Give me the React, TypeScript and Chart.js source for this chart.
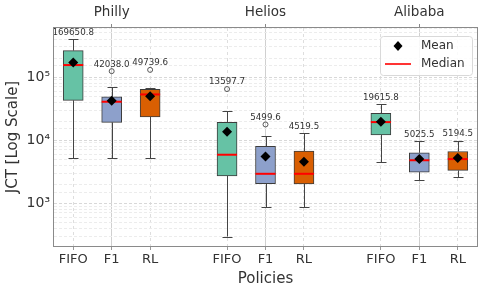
import React, { useEffect, useRef } from "react";
import { Chart, registerables } from "chart.js";

Chart.register(...registerables);

// ---- data ----
const positions = [1, 2, 3, 5, 6, 7, 9, 10, 11];
const tickLabels = ["FIFO", "F1", "RL", "FIFO", "F1", "RL", "FIFO", "F1", "RL"];
const groupNames = ["Philly", "Helios", "Alibaba"];
const groupPositions = [2, 6, 10];
const policyColors = ["#66c2a5", "#8da0cb", "#d95f02"];

const whiskerLow = [5200, 5200, 5200, 295, 866, 866, 4470, 2320, 2570];
const q1 = [42600, 19100, 23400, 2700, 2040, 2020, 12100, 3100, 3300];
const medians = [155000, 40600, 53000, 5860, 2920, 2920, 19300, 4790, 5000];
const q3 = [263000, 48700, 63700, 19100, 8000, 6700, 26500, 6300, 6600];
const whiskerHigh = [398000, 68500, 67700, 28500, 11600, 12800, 36900, 9600, 9700];
const means = [169650.8, 42038.0, 49739.6, 13597.7, 5499.6, 4519.5, 19615.8, 5025.5, 5194.5];
const outlierX = [2, 3, 5, 6];
const outlierY = [124000, 130000, 64500, 17700];

const yMin = 209;
const yMax = 600000;

const FONT = "'DejaVu Sans', sans-serif";
const TEXT = "#333333";

const whiskerPlugin = {
  id: "whiskers",
  beforeDatasetsDraw(chart: any) {
    const { ctx } = chart;
    const xs = chart.scales.x;
    const ys = chart.scales.y;
    ctx.save();
    ctx.strokeStyle = "#444444";
    ctx.lineWidth = 1;
    positions.forEach((p, i) => {
      const x = Math.round(xs.getPixelForValue(p)) + 0.5;
      const yl = ys.getPixelForValue(whiskerLow[i]);
      const yq1 = ys.getPixelForValue(q1[i]);
      const yq3 = ys.getPixelForValue(q3[i]);
      const yh = ys.getPixelForValue(whiskerHigh[i]);
      ctx.beginPath();
      ctx.moveTo(x, yl);
      ctx.lineTo(x, yq1);
      ctx.moveTo(x, yq3);
      ctx.lineTo(x, yh);
      ctx.moveTo(x - 5, Math.round(yl) + 0.5);
      ctx.lineTo(x + 5, Math.round(yl) + 0.5);
      ctx.moveTo(x - 5, Math.round(yh) + 0.5);
      ctx.lineTo(x + 5, Math.round(yh) + 0.5);
      ctx.stroke();
    });
    ctx.restore();
  },
  afterDatasetsDraw(chart: any) {
    const { ctx, chartArea } = chart;
    const xs = chart.scales.x;
    const ys = chart.scales.y;
    ctx.save();
    ctx.beginPath();
    ctx.rect(chartArea.left, chartArea.top, chartArea.right - chartArea.left, chartArea.bottom - chartArea.top);
    ctx.clip();
    ctx.fillStyle = TEXT;
    ctx.font = `8.7px ${FONT}`;
    ctx.textAlign = "center";
    ctx.textBaseline = "bottom";
    positions.forEach((p, i) => {
      let top = whiskerHigh[i];
      outlierX.forEach((ox, j) => {
        if (ox === p && outlierY[j] > top) top = outlierY[j];
      });
      const x = xs.getPixelForValue(p);
      const y = ys.getPixelForValue(top) - 2.5;
      ctx.fillText(means[i].toFixed(1), x, y);
    });
    ctx.restore();

    // frame
    ctx.save();
    ctx.strokeStyle = "#8a8a8a";
    ctx.lineWidth = 1;
    ctx.strokeRect(
      Math.round(chartArea.left) - 0.5,
      Math.round(chartArea.top) - 0.5,
      Math.round(chartArea.right - chartArea.left) + 1,
      Math.round(chartArea.bottom - chartArea.top) + 1
    );
    ctx.restore();

    // legend
    const bx = chartArea.right - 97;
    const by = chartArea.top + 8;
    const bw = 92;
    const bh = 39;
    ctx.save();
    ctx.beginPath();
    ctx.roundRect(bx + 0.5, by + 0.5, bw, bh, 3);
    ctx.fillStyle = "rgba(255,255,255,0.85)";
    ctx.fill();
    ctx.strokeStyle = "#d9d9d9";
    ctx.lineWidth = 1;
    ctx.stroke();
    // mean marker
    const mx = bx + 18;
    const my = by + 10;
    ctx.beginPath();
    ctx.moveTo(mx, my - 5);
    ctx.lineTo(mx + 4.5, my);
    ctx.lineTo(mx, my + 5);
    ctx.lineTo(mx - 4.5, my);
    ctx.closePath();
    ctx.fillStyle = "#000";
    ctx.fill();
    // median marker
    ctx.beginPath();
    ctx.moveTo(bx + 5, by + 28);
    ctx.lineTo(bx + 31, by + 28);
    ctx.strokeStyle = "red";
    ctx.lineWidth = 1.6;
    ctx.stroke();
    ctx.fillStyle = TEXT;
    ctx.font = `12px ${FONT}`;
    ctx.textAlign = "left";
    ctx.textBaseline = "middle";
    ctx.fillText("Mean", bx + 41, my);
    ctx.fillText("Median", bx + 41, by + 28);
    ctx.restore();
  },
};

const supers: Record<string, string> = { "0": "⁰", "1": "¹", "2": "²", "3": "³", "4": "⁴", "5": "⁵", "6": "⁶", "7": "⁷", "8": "⁸", "9": "⁹" };

function isPow10(v: number) {
  const l = Math.log10(v);
  return Math.abs(l - Math.round(l)) < 1e-9;
}

export default function App() {
  const ref = useRef<HTMLCanvasElement | null>(null);
  useEffect(() => {
    if (!ref.current) return;
    const chart = new Chart(ref.current, {
      data: {
        datasets: [
          {
            type: "bar",
            data: positions.map((x, i) => ({ x, y: [q1[i], q3[i]] })),
            backgroundColor: positions.map((_, i) => policyColors[i % 3]),
            borderColor: "#3c3c3c",
            borderWidth: 1,
            borderSkipped: false,
            barThickness: 20,
            grouped: false,
            order: 4,
          } as any,
          {
            type: "scatter",
            data: positions.map((x, i) => ({ x, y: medians[i] })),
            pointStyle: "line",
            pointRadius: 10,
            borderColor: "red",
            borderWidth: 2,
            order: 3,
          } as any,
          {
            type: "scatter",
            data: positions.map((x, i) => ({ x, y: means[i] })),
            pointStyle: "rectRot",
            pointRadius: 5,
            backgroundColor: "#000",
            borderColor: "#000",
            borderWidth: 0,
            order: 2,
          } as any,
          {
            type: "scatter",
            data: outlierX.map((x, i) => ({ x, y: outlierY[i] })),
            pointStyle: "circle",
            pointRadius: 2.5,
            backgroundColor: "rgba(255,255,255,0)",
            borderColor: "#555",
            borderWidth: 1,
            order: 1,
          } as any,
        ],
      },
      options: {
        animation: false,
        responsive: true,
        maintainAspectRatio: false,
        layout: { padding: { left: 0, right: 5, top: 0, bottom: 0 } },
        plugins: { legend: { display: false }, tooltip: { enabled: false } },
        scales: {
          x: {
            type: "linear",
            position: "bottom",
            min: 0.5,
            max: 11.5,
            offset: false,
            afterBuildTicks: (s: any) => {
              s.ticks = positions.map((v) => ({ value: v }));
            },
            afterFit: (s: any) => {
              s.height = 43;
            },
            ticks: {
              autoSkip: false,
              maxRotation: 0,
              padding: 2,
              color: TEXT,
              font: { family: FONT, size: 13 },
              callback: (_v: any, i: number) => tickLabels[i],
            },
            grid: { offset: false, color: "#dedede", tickColor: "#999", tickLength: 4 },
            border: { display: false, dash: [3, 3] },
            title: {
              display: true,
              text: "Policies",
              color: TEXT,
              font: { family: FONT, size: 15, lineHeight: 1.2 },
              padding: { top: 0, bottom: 1 },
            },
          },
          x2: {
            type: "linear",
            position: "top",
            min: 0.5,
            max: 11.5,
            offset: false,
            afterBuildTicks: (s: any) => {
              s.ticks = groupPositions.map((v) => ({ value: v }));
            },
            afterFit: (s: any) => {
              s.height = 28;
            },
            ticks: {
              autoSkip: false,
              maxRotation: 0,
              padding: 3,
              color: TEXT,
              font: { family: FONT, size: 13.5 },
              callback: (_v: any, i: number) => groupNames[i],
            },
            grid: { offset: false, color: "#d0d0d0", tickColor: "#888", tickLength: 4 },
            border: { display: false },
          },
          y: {
            type: "logarithmic",
            min: yMin,
            max: yMax,
            afterFit: (s: any) => {
              s.width = 54;
            },
            ticks: {
              autoSkip: false,
              padding: 4,
              color: TEXT,
              font: { family: FONT, size: 14 },
              callback: (v: any) => {
                const n = Number(v);
                if (!isPow10(n)) return "";
                const e = String(Math.round(Math.log10(n)));
                return "10" + e.split("").map((c) => supers[c]).join("");
              },
            },
            grid: {
              drawTicks: false,
              color: (c: any) => (c.tick && isPow10(c.tick.value) ? "#d8d8d8" : "#ececec"),
            },
            border: { display: false, dash: [3, 2] },
            title: {
              display: true,
              text: "JCT [Log Scale]",
              color: TEXT,
              font: { family: FONT, size: 15, lineHeight: 1.2 },
              padding: { top: 4, bottom: 0 },
            },
          },
        },
      },
      plugins: [whiskerPlugin],
    } as any);
    return () => chart.destroy();
  }, []);
  return (
    <div style={{ position: "absolute", left: 0, top: 0, width: 489, height: 289 }}>
      <canvas ref={ref} />
    </div>
  );
}
